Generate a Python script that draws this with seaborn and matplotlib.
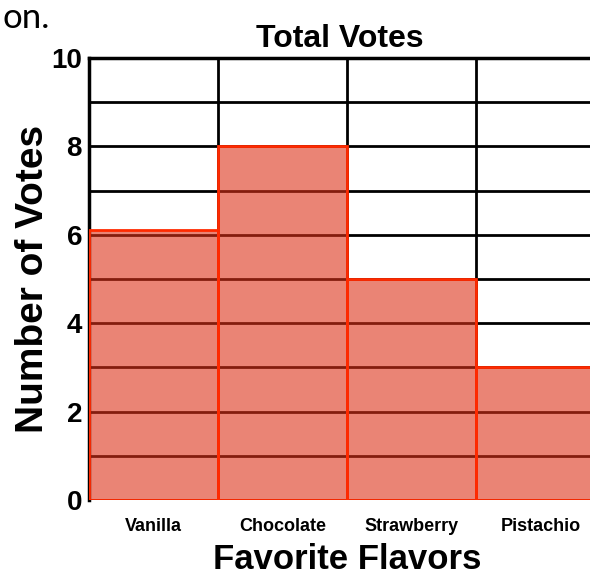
import matplotlib
matplotlib.use("Agg")
import matplotlib.pyplot as plt
import seaborn as sns
import pandas as pd
import numpy as np

flavors = ["Vanilla", "Chocolate", "Strawberry", "Pistachio"]
votes = [6.1, 8, 5, 3]
y_ticks = [0, 2, 4, 6, 8, 10]

sns.set_theme(style="white")
plt.rcParams['font.family'] = ['Liberation Sans', 'DejaVu Sans']
plt.rcParams['text.color'] = 'black'
plt.rcParams['axes.labelcolor'] = 'black'
plt.rcParams['xtick.color'] = 'black'
plt.rcParams['ytick.color'] = 'black'

df = pd.DataFrame({"Flavor": flavors, "Votes": votes})

fig = plt.figure(figsize=(5.9, 5.8), dpi=100)
ax = fig.add_axes([89/590, 80/580, 516/590, 442/580])

bar_rgba = (220/255, 50/255, 25/255, 0.6)
sns.barplot(data=df, x="Flavor", y="Votes", ax=ax, width=1.0,
            color=bar_rgba[:3], edgecolor="#ff2a00", linewidth=2.0, zorder=3)
for p in ax.patches:
    p.set_facecolor(bar_rgba)
    p.set_edgecolor("#ff2a00")

ax.set_xlim(-0.5, 3.5)
ax.set_ylim(0, 10)
ax.set_yticks(y_ticks)
ax.set_yticks(np.arange(0, 11, 1), minor=True)
ax.set_xticks(np.arange(0.5, 3.5, 1), minor=True)
ax.grid(True, which="both", axis="y", color="black", linewidth=2.0, zorder=1)
ax.grid(True, which="minor", axis="x", color="black", linewidth=2.0, zorder=1)
ax.grid(False, which="major", axis="x")
ax.set_axisbelow(True)

for s in ["left", "top"]:
    ax.spines[s].set_visible(True)
    ax.spines[s].set_color("black")
    ax.spines[s].set_linewidth(2.5)
ax.spines["right"].set_visible(False)
ax.spines["bottom"].set_visible(False)

ax.tick_params(axis="both", which="both", length=0, colors="black")
ax.tick_params(axis="y", pad=5, labelsize=20)
ax.tick_params(axis="x", pad=13, labelsize=13)
for t in ax.get_yticklabels():
    t.set_fontweight("bold")
for t in ax.get_xticklabels():
    t.set_fontweight("bold")

ax.set_xlabel("Favorite Flavors", fontsize=25, fontweight="bold", labelpad=6,
              color="black")
ax.set_ylabel("Number of Votes", fontsize=28, fontweight="bold", labelpad=0,
              color="black")
ax.set_title("Total Votes", fontsize=23, fontweight="bold", pad=8,
             x=(340-89)/516, color="black")

fig.text(2/590, 1 - 28/580, "on.", fontsize=25, ha="left", va="baseline",
         family=["Lato", "DejaVu Sans"], color="black")

fig.savefig("out.png", dpi=100)
